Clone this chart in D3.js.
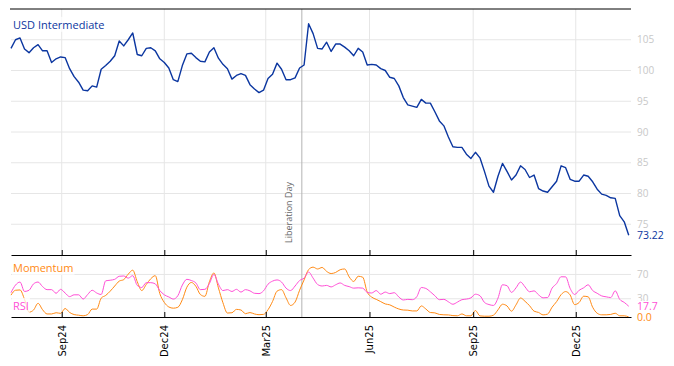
<!DOCTYPE html>
<html>
<head>
<meta charset="utf-8">
<script src="https://cdn.jsdelivr.net/npm/d3@7"></script>
<style>
	body { margin: 0; background: #fff; }
	svg { display: block; }
	text { font-family: "Open Sans", sans-serif; }
</style>
</head>
<body>
<script>
"use strict";

// one value every 4 calendar days, starting here
const startDate = "2024-07-18";
const stepDays = 4;

const usdIntermediate = [
	103.6, 105.0, 105.3, 103.5, 102.9, 103.7, 104.2, 103.2, 103.2, 101.3,
	101.9, 102.2, 102.1, 100.3, 99.0, 98.1, 96.8, 96.7, 97.5, 97.3,
	100.2, 100.8, 101.5, 102.4, 104.8, 104.0, 105.0, 106.1, 102.6, 102.4,
	103.6, 103.7, 103.2, 101.9, 101.3, 100.4, 98.5, 98.2, 100.8, 102.7,
	102.8, 102.1, 101.5, 101.4, 103.0, 103.7, 102.0, 101.0, 100.3, 98.6,
	99.2, 99.5, 99.2, 97.7, 97.0, 96.4, 96.8, 98.7, 99.4, 101.2,
	100.2, 98.5, 98.5, 98.8, 100.4, 100.9, 107.6, 106.0, 103.6, 103.5,
	104.6, 103.1, 104.3, 104.3, 103.8, 103.2, 102.4, 103.6, 103.0, 100.9,
	101.0, 100.9, 100.3, 100.0, 98.9, 98.7, 97.5, 95.6, 94.4, 94.2,
	94.0, 95.3, 94.7, 94.7, 93.3, 91.8, 91.0, 89.2, 87.6, 87.5,
	87.5, 86.4, 85.7, 86.7, 85.8, 83.6, 81.2, 80.2, 82.8, 84.9,
	83.6, 82.2, 83.0, 84.5, 83.9, 82.6, 83.0, 80.8, 80.4, 80.2,
	81.1, 82.0, 84.5, 84.2, 82.3, 82.0, 82.0, 83.0, 82.8, 81.9,
	80.7, 79.9, 79.7, 79.3, 79.2, 76.4, 75.4, 73.22
];

const momentum = [
	36, 44, 44.5, 29, 8, 11.5, 22.5, 12, 5, 5,
	7, 6, 14, 7.5, 4, 3, 2, 4, 13, 13,
	31, 35.5, 42.5, 51, 59, 61.5, 70.5, 77, 58, 43.5,
	53.5, 63, 68, 38.5, 24, 16.5, 14.5, 16, 28.5, 49,
	56.8, 50.5, 37, 34, 58, 72.5, 48, 23.5, 6.5, 7,
	12.5, 11.5, 5.5, 7.3, 5, 3.8, 4.3, 12, 25.5, 42.5,
	45, 31.5, 19, 24.5, 44, 61, 78, 82, 79, 81.5,
	75, 71.5, 73.3, 77.8, 79, 66, 58.5, 67, 65.5, 41,
	32.7, 29, 25.3, 21.5, 20, 16.3, 13.2, 11.5, 11.2, 10,
	10, 18.2, 13.2, 7.4, 6.8, 4.2, 3.6, 3.4, 2.3, 2,
	5, 2, 2, 10.6, 1.8, 1.3, 1.3, 3, 11.8, 21,
	18.2, 9.6, 20, 31.3, 25.8, 18.6, 9.6, 7.5, 3.5, 4.8,
	16.2, 25.3, 36.8, 41.8, 36.3, 20.4, 23.9, 34.2, 33.2, 16,
	6.2, 3.6, 3.6, 4.2, 6.2, 2, 2, 0
];

const rsi = [
	40, 52.5, 57.5, 42, 44, 54.5, 57.5, 50, 45, 45,
	39, 45.5, 39.5, 33.5, 36.5, 36.5, 29.5, 37, 44, 39.5,
	37, 59.5, 60.5, 62, 67, 67.5, 64, 68, 52, 48.5,
	56.5, 56.5, 54.5, 43.5, 36.5, 33, 29.5, 35, 52.5, 62,
	60, 56, 45, 45.5, 55, 70, 54, 43.5, 45, 42,
	45.5, 41, 45, 43, 39, 38.5, 43, 54, 59, 61,
	57.5, 47.5, 43.5, 51, 60, 64, 74, 64, 53.5, 51,
	52, 49.5, 53, 56, 52, 50, 47.5, 48, 47.5, 40.5,
	39.5, 43.5, 37.5, 41, 38.5, 40, 33, 28, 29, 28.5,
	33.5, 48.5, 47, 41.5, 35, 28.5, 29, 25, 21, 24.5,
	28.5, 29.5, 31.5, 37.5, 35, 24, 20.5, 19, 31, 53,
	51.5, 40.5, 48, 57.5, 49.5, 41.5, 43, 36.5, 31.5, 32,
	47.5, 55, 66.2, 66, 47, 37, 44, 48, 53, 43.5,
	39, 34.7, 33.2, 32, 43, 29, 24, 17.7
];

const tickDates = ["2024-09-01", "2024-12-01", "2025-03-01", "2025-06-01", "2025-09-01", "2025-12-01"];
const tickLabels = ["Sep24", "Dec24", "Mar25", "Jun25", "Sep25", "Dec25"];
const priceTicks = [75, 80, 85, 90, 95, 100, 105];
const oscTicks = [30, 70];
const eventDate = "2025-04-02";
const eventLabel = "Liberation Day";
const domainDates = ["2024-07-18", "2026-01-19"];

const w = 674;
const h = 366;
const left = 11;
const right = 631;
const topY = 9;
const midY = 255;
const bottomY = 317;

const blue = "#0b36a0";
const orange = "#ff8a14";
const pink = "#ff4fd6";
const grid = "#e6e6e6";
const faint = "#c8c8c8";

const parse = d3.timeParse("%Y-%m-%d");
const start = parse(startDate);
const dates = usdIntermediate.map((_, i) => d3.timeDay.offset(start, i * stepDays));
const ticks = tickDates.map(parse);

const x = d3.scaleTime()
	.domain(domainDates.map(parse))
	.range([left, right]);
const y = d3.scaleLinear()
	.domain([70, 110])
	.range([midY, topY]);
const yOsc = d3.scaleLinear()
	.domain([0, 102])
	.range([bottomY, midY]);

const svg = d3.select("body")
	.append("svg")
	.attr("width", w)
	.attr("height", h);

// gridlines
svg.append("g")
	.selectAll("line")
	.data(priceTicks)
	.join("line")
	.attr("x1", left).attr("x2", right)
	.attr("y1", d => y(d)).attr("y2", d => y(d))
	.attr("stroke", grid);
svg.append("g")
	.selectAll("line")
	.data(oscTicks)
	.join("line")
	.attr("x1", left).attr("x2", right)
	.attr("y1", d => yOsc(d)).attr("y2", d => yOsc(d))
	.attr("stroke", grid);
svg.append("g")
	.selectAll("line")
	.data(ticks)
	.join("line")
	.attr("x1", d => x(d)).attr("x2", d => x(d))
	.attr("y1", topY).attr("y2", bottomY)
	.attr("stroke", grid);

// event marker
const ex = x(parse(eventDate));
svg.append("line")
	.attr("x1", ex).attr("x2", ex)
	.attr("y1", topY).attr("y2", bottomY)
	.attr("stroke", "#b4b4b4");
svg.append("text")
	.attr("transform", `translate(${ex - 10},${midY - 12}) rotate(-90)`)
	.attr("fill", "#666")
	.style("font-size", "9px")
	.text(eventLabel);

// price line
const line = d3.line()
	.x((d, i) => x(dates[i]))
	.y(d => y(d))
	.curve(d3.curveLinear);
svg.append("path")
	.datum(usdIntermediate)
	.attr("d", line)
	.attr("fill", "none")
	.attr("stroke", blue)
	.attr("stroke-width", 1.4)
	.attr("stroke-linejoin", "round");

// oscillators
const oscLine = d3.line()
	.x((d, i) => x(dates[i]))
	.y(d => yOsc(d))
	.curve(d3.curveMonotoneX);
svg.append("path")
	.datum(momentum)
	.attr("d", oscLine)
	.attr("fill", "none")
	.attr("stroke", orange)
	.attr("stroke-width", 1);
svg.append("path")
	.datum(rsi)
	.attr("d", oscLine)
	.attr("fill", "none")
	.attr("stroke", pink)
	.attr("stroke-width", 1);

// frame + x axes
svg.append("line")
	.attr("x1", left - 1).attr("x2", right)
	.attr("y1", topY).attr("y2", topY)
	.attr("stroke", "#000");
const xAxisMid = d3.axisBottom(x)
	.tickValues(ticks)
	.tickSize(-5)
	.tickSizeOuter(0)
	.tickFormat("");
svg.append("g")
	.attr("transform", `translate(0,${midY})`)
	.call(xAxisMid);
const xAxis = d3.axisBottom(x)
	.tickValues(ticks)
	.tickSize(-5)
	.tickSizeOuter(0)
	.tickFormat((d, i) => tickLabels[i]);
const gx = svg.append("g")
	.attr("transform", `translate(0,${bottomY})`)
	.call(xAxis);
gx.selectAll("text")
	.attr("transform", "rotate(-90)")
	.attr("x", -8)
	.attr("y", 0)
	.attr("dy", "0.35em")
	.style("text-anchor", "end")
	.style("font-family", "'DejaVu Sans', sans-serif")
	.style("font-size", "10px")
	.attr("fill", "#000");

// right-hand labels
svg.append("g")
	.selectAll("text")
	.data(priceTicks)
	.join("text")
	.attr("x", 637)
	.attr("y", d => y(d))
	.attr("dy", "0.35em")
	.attr("fill", faint)
	.style("font-size", "10px")
	.text(d => d);
svg.append("g")
	.selectAll("text")
	.data(oscTicks)
	.join("text")
	.attr("x", 637)
	.attr("y", d => yOsc(d))
	.attr("dy", "0.35em")
	.attr("fill", faint)
	.style("font-size", "10px")
	.text(d => d);

// last values, drawn on a white patch over the tick labels
const lastLabels = [
	{ v: y(usdIntermediate[usdIntermediate.length - 1]), t: d3.format(".2f")(usdIntermediate[usdIntermediate.length - 1]), c: blue },
	{ v: yOsc(rsi[rsi.length - 1]), t: d3.format(".1f")(rsi[rsi.length - 1]), c: pink },
	{ v: yOsc(momentum[momentum.length - 1]), t: d3.format(".1f")(momentum[momentum.length - 1]), c: orange }
];
lastLabels.forEach(l => {
	const g = svg.append("g");
	const txt = g.append("text")
		.attr("x", 637)
		.attr("y", l.v)
		.attr("dy", "0.35em")
		.attr("fill", l.c)
		.style("font-size", "10.5px")
		.text(l.t);
	const b = txt.node().getBBox();
	g.insert("rect", "text")
		.attr("x", b.x).attr("y", b.y + 2)
		.attr("width", b.width).attr("height", b.height - 3)
		.attr("fill", "#fff");
});

// series names
const names = [
	{ t: "USD Intermediate", c: blue, yy: 25 },
	{ t: "Momentum", c: orange, yy: 268 },
	{ t: "RSI", c: pink, yy: 306 }
];
names.forEach(n => {
	const g = svg.append("g");
	const txt = g.append("text")
		.attr("x", 13)
		.attr("y", n.yy)
		.attr("dy", "0.35em")
		.attr("fill", n.c)
		.style("font-size", "11px")
		.text(n.t);
	const b = txt.node().getBBox();
	g.insert("rect", "text")
		.attr("x", b.x - 1).attr("y", b.y)
		.attr("width", b.width + 2).attr("height", b.height)
		.attr("fill", "#fff")
		.attr("opacity", 0.75);
});
</script>
</body>
</html>
